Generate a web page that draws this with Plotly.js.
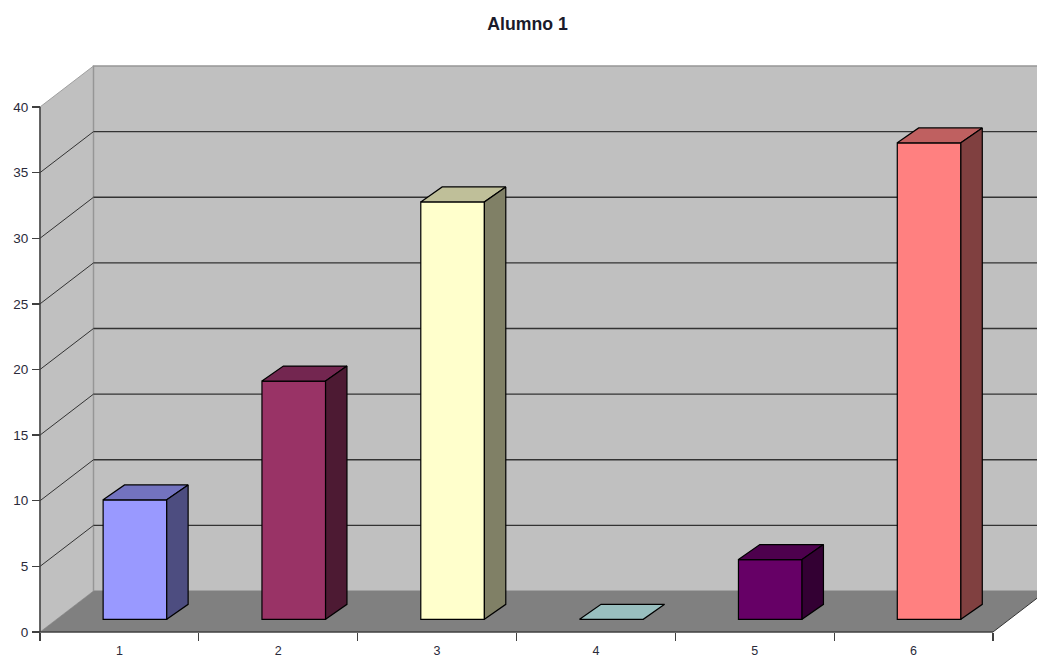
<!DOCTYPE html>
<html>
<head>
<meta charset="utf-8">
<script src="https://cdn.plot.ly/plotly-3.0.1.min.js"></script>
<style>html,body{margin:0;padding:0;background:#fff;overflow:hidden}#chart{width:1037px;height:659px}</style>
</head>
<body>
<div id="chart"></div>
<script>
const categories = [1, 2, 3, 4, 5, 6];
const values = [9.1, 18.15, 31.8, 0, 4.55, 36.3];
const frontColors = ['#9999ff', '#993366', '#ffffcc', '#ccffff', '#660066', '#ff8080'];
const topColors = ['#7373bf', '#732650', '#bfbf99', '#99bfbf', '#4d004d', '#bf6060'];
const sideColors = ['#4d4d80', '#4d1a33', '#808066', '#668080', '#330033', '#804040'];
const yTicks = [0, 5, 10, 15, 20, 25, 30, 35, 40];
const xBoundaries = [0.5, 1.5, 2.5, 3.5, 4.5, 5.5, 6.5];
const W = 1037, H = 659;
const pxPerCat = 158.83, pxPerUnit = 13.125;
const originX = 40, originY = 632;
const xRange = [0.5 - originX / pxPerCat, 0.5 + (W - originX) / pxPerCat];
const yRange = [-(H - originY) / pxPerUnit, originY / pxPerUnit];
// oblique depth of the box, in data units
const DX = 53.5 / pxPerCat, DY = 41 / pxPerUnit;
const barFront = 0.31, barBack = 0.675, barWidth = 63.6 / pxPerCat;
const barFrontX = 0.29, barBackX = 0.69;
const vMax = 40, xMin = 0.5, xMax = 6.5;

const px = (x, d) => x + d * DX;
const py = (v, d) => v + d * DY;
const path = pts => 'M' + pts.map(p => p[0] + ',' + p[1]).join('L') + 'Z';
const shapeBase = {xref: 'x', yref: 'y', layer: 'below'};
const shapes = [];
// walls and floor
shapes.push({...shapeBase, type: 'path', path: path([[px(xMin,0),0],[px(xMin,1),py(0,1)],[px(xMin,1),py(vMax,1)],[px(xMin,0),vMax]]), fillcolor: '#c0c0c0', line: {color: '#a0a0a0', width: 1}});
shapes.push({...shapeBase, type: 'path', path: path([[px(xMin,1),py(0,1)],[px(xMax,1),py(0,1)],[px(xMax,1),py(vMax,1)],[px(xMin,1),py(vMax,1)]]), fillcolor: '#c0c0c0', line: {color: '#969696', width: 1.5}});
shapes.push({...shapeBase, type: 'path', path: path([[px(xMin,0),0],[px(xMax,0),0],[px(xMax,1),py(0,1)],[px(xMin,1),py(0,1)]]), fillcolor: '#808080', line: {width: 0}});
// gridlines
yTicks.filter(v => v > 0 && v < vMax).forEach(v => {
  shapes.push({...shapeBase, type: 'line', x0: px(xMin,1), x1: px(xMax,1), y0: py(v,1), y1: py(v,1), line: {color: '#333333', width: 1.3}});
  shapes.push({...shapeBase, type: 'line', x0: px(xMin,0), x1: px(xMin,1), y0: py(v,0), y1: py(v,1), line: {color: '#333333', width: 1}});
});
shapes.push({...shapeBase, type: 'line', x0: px(xMax,0), x1: px(xMax,1), y0: 0, y1: py(0,1), line: {color: '#333333', width: 1}});

const traces = [];
// front faces
traces.push({
  type: 'bar', x: categories.map(c => px(c, barFrontX)), y: values, base: py(0, barFront),
  width: barWidth, marker: {color: frontColors, line: {color: '#000000', width: 1.2}},
  hoverinfo: 'skip', showlegend: false
});
// top and side faces
const face = (pts, color) => ({
  type: 'scatter', mode: 'lines', x: pts.map(p => p[0]), y: pts.map(p => p[1]),
  fill: 'toself', fillcolor: color, line: {color: '#000000', width: 1.2},
  hoverinfo: 'skip', showlegend: false
});
categories.forEach((c, i) => {
  const v = values[i], l = c - barWidth / 2, r = c + barWidth / 2;
  const F = (x, val) => [px(x, barFrontX), py(val, barFront)];
  const B = (x, val) => [px(x, barBackX), py(val, barBack)];
  traces.push(face([F(l,v), F(r,v), B(r,v), B(l,v), F(l,v)], topColors[i]));
  if (v > 0) traces.push(face([F(r,0), B(r,0), B(r,v), F(r,v), F(r,0)], sideColors[i]));
});
// axis lines
const axisLine = (x, y) => ({type: 'scatter', mode: 'lines', x, y, line: {color: '#404040', width: 1.5}, hoverinfo: 'skip', showlegend: false});
traces.push(axisLine([xMin, xMax], [0, 0]));
traces.push(axisLine([xMin, xMin], [0, vMax]));

const tickFont = {family: 'Liberation Sans, Arial, sans-serif', size: 13.5, color: '#2a2a3a'};
const xTickFont = {family: 'Liberation Sans, Arial, sans-serif', size: 12.5, color: '#2a2a3a'};
const layout = {
  width: W, height: H, margin: {l: 0, r: 0, t: 0, b: 0, pad: 0},
  paper_bgcolor: '#ffffff', plot_bgcolor: '#ffffff', showlegend: false, barmode: 'overlay',
  title: {text: '<b>Alumno 1</b>', x: 527.5 / W, xanchor: 'center', y: 1 - 24 / H, yanchor: 'middle',
          font: {family: 'Liberation Sans, Arial, sans-serif', size: 17.7, color: '#1a1a2a'}},
  xaxis: {
    range: xRange, domain: [0, 1], anchor: 'free', position: (H - originY) / H,
    tickmode: 'array', tickvals: categories, ticktext: categories.map(String),
    ticks: 'outside', ticklen: 7, tickcolor: 'rgba(0,0,0,0)', tickfont: xTickFont,
    minor: {tickmode: 'array', tickvals: xBoundaries, ticks: 'outside', ticklen: 8, tickwidth: 1.3, tickcolor: '#404040', showgrid: false},
    showgrid: false, zeroline: false, showline: false, automargin: false, fixedrange: true
  },
  yaxis: {
    range: yRange, domain: [0, 1], anchor: 'free', position: originX / W,
    tickmode: 'array', tickvals: yTicks, ticktext: yTicks.map(String),
    ticks: 'outside', ticklen: 8, tickwidth: 1.3, tickcolor: '#404040', tickfont: tickFont,
    ticklabelstandoff: 1,
    showgrid: false, zeroline: false, showline: false, automargin: false, fixedrange: true
  },
  shapes
};
Plotly.newPlot('chart', traces, layout, {displayModeBar: false, staticPlot: true});
</script>
</body>
</html>
